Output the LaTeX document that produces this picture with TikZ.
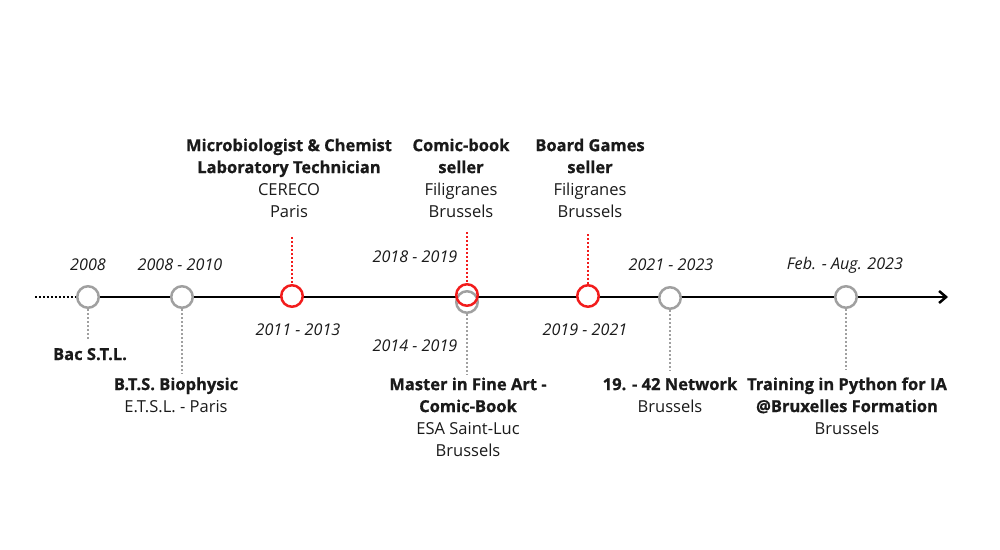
\documentclass[tikz,border=0pt]{standalone}
\usepackage{fontspec}
\setmainfont{Open Sans}[BoldFeatures={FakeBold=0.8}]
\usetikzlibrary{arrows.meta}
\definecolor{cgrey}{HTML}{A0A0A0}
\definecolor{cred}{HTML}{F21C1C}
\definecolor{ctext}{HTML}{1A1A1A}
\begin{document}
\begin{tikzpicture}[x=0.02cm,y=-0.02cm,
  every node/.style={font=\fontsize{9.4}{12.5}\selectfont, text=ctext, inner sep=0pt},
  ev/.style={circle, draw=cgrey, line width=0.05cm, fill=white, minimum size=0.43cm},
  evred/.style={ev, draw=cred},
  date/.style={font=\fontsize{9.2}{12.5}\selectfont\itshape},
  lbl/.style={align=center, anchor=base},
  gdot/.style={draw=cgrey, line width=0.045cm, dash pattern=on 0.04cm off 0.04cm},
  rdot/.style={draw=cred, line width=0.045cm, dash pattern=on 0.04cm off 0.04cm},
  mainline/.style={line width=0.05cm, black}]
\useasboundingbox (0,0) rectangle (1000,549);
% main axis
\coordinate (tail) at (35,297);
\coordinate (axstart) at (88,297);
\coordinate (axend) at (948,297);
\draw[mainline, -{Straight Barb[length=0.14cm,width=0.24cm,line width=0.05cm]}] (axstart) -- (axend);
% events
\node[ev] (c1) at (88,297) {};
\node[ev] (c2) at (182,297) {};
\node[evred] (c3) at (292,296) {};
\node[ev] (c4g) at (467,302) {};
\node[evred, fill=none] (c4r) at (467,295) {};
\node[evred] (c5) at (588,296) {};
\node[ev] (c6) at (670,298) {};
\node[ev] (c7) at (846,297) {};
\draw[black, line width=0.05cm, dash pattern=on 0.04cm off 0.04cm] (tail) -- (c1);
% dates
\node[date] (d1) at (88,265) {2008};
\node[date] (d2) at (180,265) {2008 - 2010};
\node[date] (d3) at (298,330) {2011 - 2013};
\node[date] (d4r) at (415,257) {2018 - 2019};
\node[date] (d4g) at (415,346) {2014 - 2019};
\node[date] (d5) at (585,330) {2019 - 2021};
\node[date] (d6) at (671,265) {2021 - 2023};
\node[date] (d7) at (845,265) {Feb. - Aug. 2023};
% labels (base anchor = baseline of last line)
\node[lbl] (t1) at (90,360) {\textbf{Bac S.T.L.}};
\node[lbl] (t2) at (176,412) {\textbf{B.T.S. Biophysic}\\E.T.S.L. - Paris};
\node[lbl] (t3) at (289,217) {\textbf{Microbiologist \& Chemist}\\\textbf{Laboratory Technician}\\CERECO\\Paris};
\node[lbl] (t4) at (461,217) {\textbf{Comic-book}\\\textbf{seller}\\Filigranes\\Brussels};
\node[lbl] (t5) at (590,217) {\textbf{Board Games}\\\textbf{seller}\\Filigranes\\Brussels};
\node[lbl] (t6) at (468,456) {\textbf{Master in Fine Art -}\\\textbf{Comic-Book}\\ESA Saint-Luc\\Brussels};
\node[lbl] (t7) at (670,412) {\textbf{19. - 42 Network}\\Brussels};
\node[lbl] (t8) at (847,434) {\textbf{Training in Python for IA}\\\textbf{@Bruxelles Formation}\\Brussels};
% connectors
\coordinate (e1) at (88,340);
\coordinate (e2) at (182,373);
\coordinate (e3) at (292,237);
\coordinate (e4r) at (467,232);
\coordinate (e4g) at (467,375);
\coordinate (e5) at (588,234);
\coordinate (e6) at (670,371);
\coordinate (e7) at (846,369);
\draw[gdot] (c1) -- (e1);
\draw[gdot] (c2) -- (e2);
\draw[rdot] (e3) -- (c3);
\draw[rdot] (e4r) -- (c4r);
\draw[gdot] (c4g) -- (e4g);
\draw[rdot] (e5) -- (c5);
\draw[gdot] (c6) -- (e6);
\draw[gdot] (c7) -- (e7);
\end{tikzpicture}
\end{document}
